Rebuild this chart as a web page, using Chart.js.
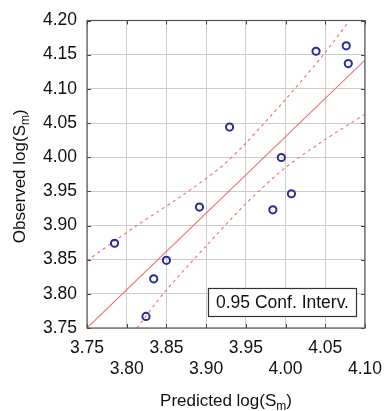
<!DOCTYPE html>
<html>
<head>
<meta charset="utf-8">
<script src="https://cdn.jsdelivr.net/npm/chart.js@4"></script>
<style>
  html, body { margin: 0; padding: 0; background: #fff; }
  #wrap { width: 391px; height: 411px; position: relative; }
</style>
</head>
<body>
<div id="wrap"><canvas id="c" width="391" height="411"></canvas></div>
<script>
// ---- data ----
const predicted = [3.7847, 3.8243, 3.834, 3.850, 3.8916, 3.9295, 3.984, 3.9947, 4.0074, 4.0384, 4.0764, 4.079];
const observed  = [3.874, 3.767, 3.822, 3.849, 3.927, 4.044, 3.923, 3.9995, 3.9465, 4.155, 4.163, 4.137];

const fitX = [3.75, 4.10];
const fitY = [3.75, 4.142];

const upperX = [3.75, 3.8128, 3.87, 3.919, 3.9495, 3.998, 4.047, 4.078];
const upperY = [3.8485, 3.900, 3.944, 3.986, 4.020, 4.082, 4.149, 4.196];

const lowerX = [3.8128, 3.8495, 3.8985, 3.95, 3.998, 4.045, 4.10];
const lowerY = [3.75, 3.805, 3.868, 3.932, 3.983, 4.022, 4.063];

const xTicks = [3.75, 3.80, 3.85, 3.90, 3.95, 4.00, 4.05, 4.10];
const yTicks = [3.75, 3.80, 3.85, 3.90, 3.95, 4.00, 4.05, 4.10, 4.15, 4.20];

const xTitleMain = 'Predicted log(S', yTitleMain = 'Observed log(S', titleSub = 'm', titleEnd = ')';
const legendText = '0.95 Conf. Interv.';

const FONT = "'Liberation Sans', Arial, sans-serif";
const pairs = (xs, ys) => xs.map((x, i) => ({ x, y: ys[i] }));

const redColor = '#f26a6a';

const decor = {
  id: 'decor',
  afterDraw(chart) {
    const { ctx, chartArea: a, scales } = chart;
    ctx.save();
    // inward tick marks
    ctx.strokeStyle = '#444';
    ctx.lineWidth = 1;
    const tl = 4;
    ctx.beginPath();
    xTicks.forEach(v => {
      const px = Math.round(scales.x.getPixelForValue(v)) + 0.5;
      ctx.moveTo(px, a.bottom); ctx.lineTo(px, a.bottom - tl);
      ctx.moveTo(px, a.top); ctx.lineTo(px, a.top + tl);
    });
    yTicks.forEach(v => {
      const py = Math.round(scales.y.getPixelForValue(v)) + 0.5;
      ctx.moveTo(a.left, py); ctx.lineTo(a.left + tl, py);
      ctx.moveTo(a.right, py); ctx.lineTo(a.right - tl, py);
    });
    ctx.stroke();
    // frame
    ctx.strokeStyle = '#555';
    ctx.lineWidth = 1.2;
    ctx.strokeRect(a.left, a.top, a.right - a.left, a.bottom - a.top);

    // legend box
    const bx = 208.5, by = 288.5, bw = 148, bh = 28;
    ctx.fillStyle = '#fff';
    ctx.fillRect(bx, by, bw, bh);
    ctx.strokeStyle = '#333';
    ctx.lineWidth = 1.2;
    ctx.strokeRect(bx, by, bw, bh);
    ctx.fillStyle = '#111';
    ctx.font = '17.5px ' + FONT;
    ctx.textAlign = 'center';
    ctx.textBaseline = 'middle';
    ctx.fillText(legendText, bx + bw / 2, by + bh / 2 + 1);

    // axis titles with subscript
    const drawTitle = (main, cx, cy) => {
      ctx.font = '17px ' + FONT;
      const w1 = ctx.measureText(main).width;
      ctx.font = '12px ' + FONT;
      const w2 = ctx.measureText(titleSub).width;
      ctx.font = '17px ' + FONT;
      const w3 = ctx.measureText(titleEnd).width;
      const total = w1 + w2 + w3;
      let x0 = cx - total / 2;
      ctx.textAlign = 'left';
      ctx.textBaseline = 'alphabetic';
      ctx.fillStyle = '#111';
      ctx.fillText(main, x0, cy);
      ctx.font = '12px ' + FONT;
      ctx.fillText(titleSub, x0 + w1, cy + 4);
      ctx.font = '17px ' + FONT;
      ctx.fillText(titleEnd, x0 + w1 + w2, cy);
    };
    const cx = (a.left + a.right) / 2;
    drawTitle(xTitleMain, cx, 406);
    ctx.save();
    ctx.translate(25, (a.top + a.bottom) / 2 + 2);
    ctx.rotate(-Math.PI / 2);
    drawTitle(yTitleMain, 0, 0);
    ctx.restore();
    ctx.restore();
  }
};

new Chart(document.getElementById('c'), {
  type: 'scatter',
  data: {
    datasets: [
      {
        label: 'data',
        data: pairs(predicted, observed),
        pointStyle: 'circle',
        pointRadius: 3.6,
        pointHoverRadius: 3.6,
        borderWidth: 2,
        borderColor: '#2c2c98',
        backgroundColor: 'rgba(0,0,0,0)',
        order: 0
      },
      {
        label: 'fit',
        type: 'line',
        data: pairs(fitX, fitY),
        borderColor: redColor,
        borderWidth: 1.1,
        pointRadius: 0,
        fill: false,
        order: 1
      },
      {
        label: 'upper',
        type: 'line',
        data: pairs(upperX, upperY),
        borderColor: redColor,
        borderWidth: 1.1,
        borderDash: [3, 3.5],
        pointRadius: 0,
        fill: false,
        tension: 0.3,
        order: 2
      },
      {
        label: 'lower',
        type: 'line',
        data: pairs(lowerX, lowerY),
        borderColor: redColor,
        borderWidth: 1.1,
        borderDash: [3, 3.5],
        pointRadius: 0,
        fill: false,
        tension: 0.3,
        order: 3
      }
    ]
  },
  options: {
    responsive: false,
    animation: false,
    events: [],
    layout: { padding: { top: 17.5, right: 18.5, left: 0, bottom: 0 } },
    plugins: { legend: { display: false }, tooltip: { enabled: false } },
    scales: {
      x: {
        type: 'linear',
        min: 3.75, max: 4.10,
        afterFit(s) { s.height = 83; },
        afterBuildTicks(s) { s.ticks = xTicks.map(v => ({ value: v })); },
        grid: { color: '#cccccc', lineWidth: 1, drawTicks: false },
        border: { display: false },
        ticks: {
          padding: 9,
          maxRotation: 0,
          autoSkip: false,
          color: '#111',
          font: { family: FONT, size: 17.5, lineHeight: 1.23 },
          callback(v) {
            const i = xTicks.findIndex(t => Math.abs(t - v) < 1e-6);
            const s = Number(v).toFixed(2);
            return i % 2 === 0 ? [s] : ['', s];
          }
        }
      },
      y: {
        type: 'linear',
        min: 3.75, max: 4.20,
        afterFit(s) { s.width = 87; },
        afterBuildTicks(s) { s.ticks = yTicks.map(v => ({ value: v })); },
        grid: { color: '#cccccc', lineWidth: 1, drawTicks: false },
        border: { display: false },
        ticks: {
          padding: 10,
          autoSkip: false,
          color: '#111',
          font: { family: FONT, size: 17.5 },
          callback(v) { return Number(v).toFixed(2); }
        }
      }
    }
  },
  plugins: [decor]
});
</script>
</body>
</html>
